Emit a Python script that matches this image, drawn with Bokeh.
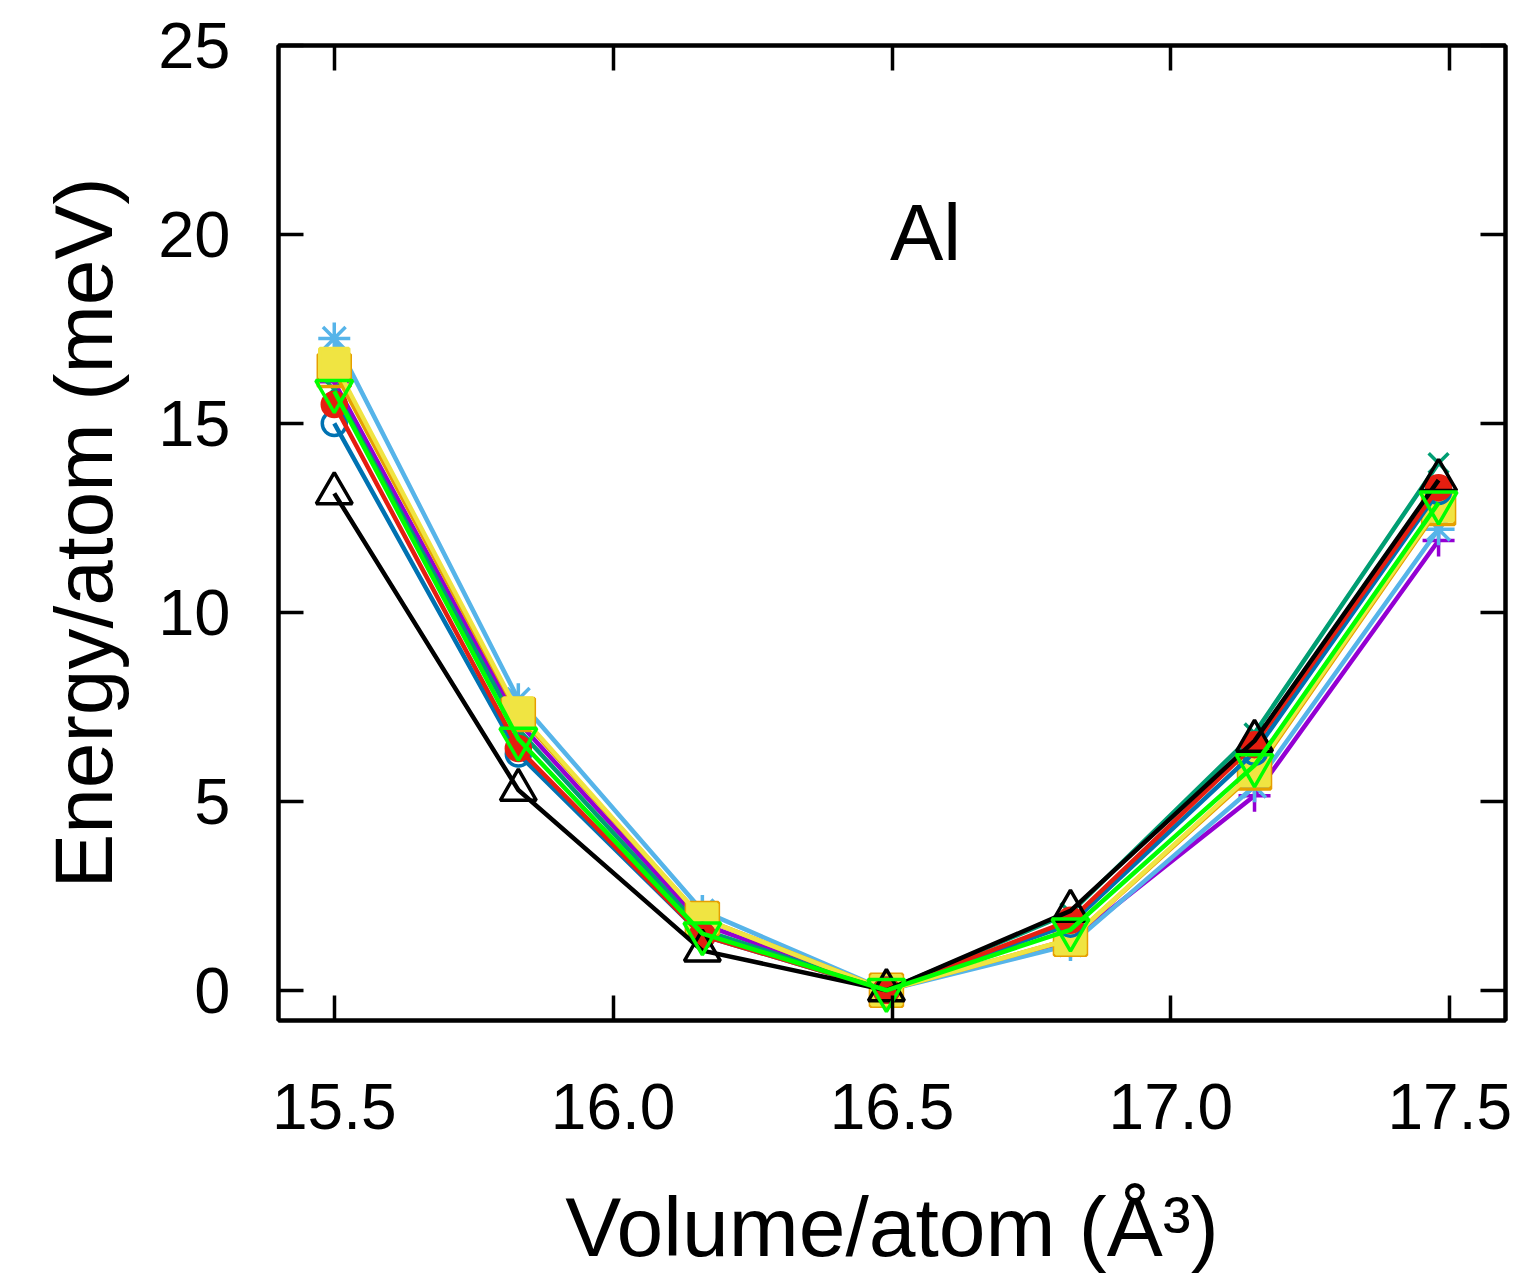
from bokeh.plotting import figure
from bokeh.models import LinearAxis, Range1d, Label, FixedTicker
from bokeh.embed import file_html
from bokeh.resources import INLINE

volume = [15.50, 15.83, 16.16, 16.49, 16.82, 17.15, 17.48]
e_purple = [16.1, 7.1, 1.75, 0.0, 1.3, 5.15, 11.9]
e_teal = [15.9, 6.9, 1.6, 0.0, 2.05, 6.8, 13.95]
e_lightblue = [17.25, 7.7, 2.1, 0.0, 1.2, 5.4, 12.2]
e_orange = [16.4, 7.3, 1.9, 0.0, 1.35, 5.75, 12.75]
e_yellow = [16.6, 7.35, 1.9, 0.0, 1.35, 5.8, 12.8]
e_blue = [15.0, 6.25, 1.45, 0.0, 1.75, 6.3, 13.2]
e_red = [15.5, 6.4, 1.45, 0.0, 1.85, 6.5, 13.3]
e_black = [13.15, 5.3, 1.05, 0.0, 2.1, 6.6, 13.5]
e_green = [15.85, 6.65, 1.5, 0.0, 1.6, 5.95, 12.9]

x_ticks = [15.5, 16.0, 16.5, 17.0, 17.5]
x_tick_labels = {15.5: "15.5", 16.0: "16.0", 16.5: "16.5", 17.0: "17.0", 17.5: "17.5"}
y_ticks = [0, 5, 10, 15, 20, 25]

FONT = "Liberation Sans"

p = figure(frame_width=1227, frame_height=975,
           x_range=Range1d(15.4, 17.6), y_range=Range1d(-0.8, 25),
           output_backend="svg", toolbar_location=None,
           min_border_left=278, min_border_top=45, min_border_right=14, min_border_bottom=245)
p.xgrid.visible = False
p.ygrid.visible = False
p.outline_line_color = "black"
p.outline_line_width = 4
p.background_fill_color = "white"
p.border_fill_color = "white"

def style_axis(ax):
    ax.axis_line_width = 4
    ax.axis_line_color = "black"
    ax.major_tick_line_width = 3.5
    ax.major_tick_line_color = "black"
    ax.major_tick_in = 25
    ax.major_tick_out = 0
    ax.minor_tick_line_color = None
    ax.major_label_text_font = FONT
    ax.major_label_text_color = "black"
    ax.axis_label_text_font = FONT
    ax.axis_label_text_font_style = "normal"
    ax.axis_label_text_color = "black"

xa = p.xaxis[0]
xa.ticker = FixedTicker(ticks=x_ticks)
xa.major_label_overrides = x_tick_labels
style_axis(xa)
xa.major_label_text_font_size = "64px"
xa.major_label_standoff = 63
xa.axis_label = "Volume/atom (Å³)"
xa.axis_label_text_font_size = "84px"
xa.axis_label_standoff = 48

ya = p.yaxis[0]
ya.ticker = FixedTicker(ticks=y_ticks)
style_axis(ya)
ya.major_label_text_font_size = "65px"
ya.major_label_standoff = 48
ya.axis_label = "Energy/atom (meV)"
ya.axis_label_text_font_size = "82px"
ya.axis_label_standoff = 26

# mirrored tick marks (no labels) on top and right
top = LinearAxis(ticker=FixedTicker(ticks=x_ticks))
style_axis(top)
top.major_label_text_font_size = "10px"
top.major_label_overrides = {t: "" for t in x_ticks}
top.major_label_standoff = 0
p.add_layout(top, "above")
right = LinearAxis(ticker=FixedTicker(ticks=y_ticks))
style_axis(right)
right.major_label_text_font_size = "10px"
right.major_label_overrides = {t: "" for t in y_ticks}
right.major_label_standoff = 0
p.add_layout(right, "right")

series = [
    (e_purple, "#9400D3", "cross", None, 32),
    (e_teal, "#009E73", "x", None, 28),
    (e_lightblue, "#56B4E9", "asterisk", None, 32),
    (e_orange, "#E69F00", "square", None, 32),
    (e_yellow, "#F0E442", "square", "#F0E442", 29),
    (e_blue, "#0072B2", "circle", None, 24),
    (e_red, "#E51E10", "circle", "#E51E10", 24),
    (e_black, "#000000", "triangle", None, 36),
    (e_green, "#00FF00", "inverted_triangle", None, 37),
]
for ys, col, mk, fill, size in series:
    p.line(volume, ys, line_color=col, line_width=4.5)
    p.scatter(volume, ys, marker=mk, size=size, line_color=col, line_width=3.5,
              fill_color=fill if fill else None)

p.add_layout(Label(x=16.56, y=20.05, text="Al", text_font=FONT, text_font_size="80px",
                   text_align="center", text_baseline="middle", text_color="black"))

open("out.html", "w").write(file_html(p, INLINE))
